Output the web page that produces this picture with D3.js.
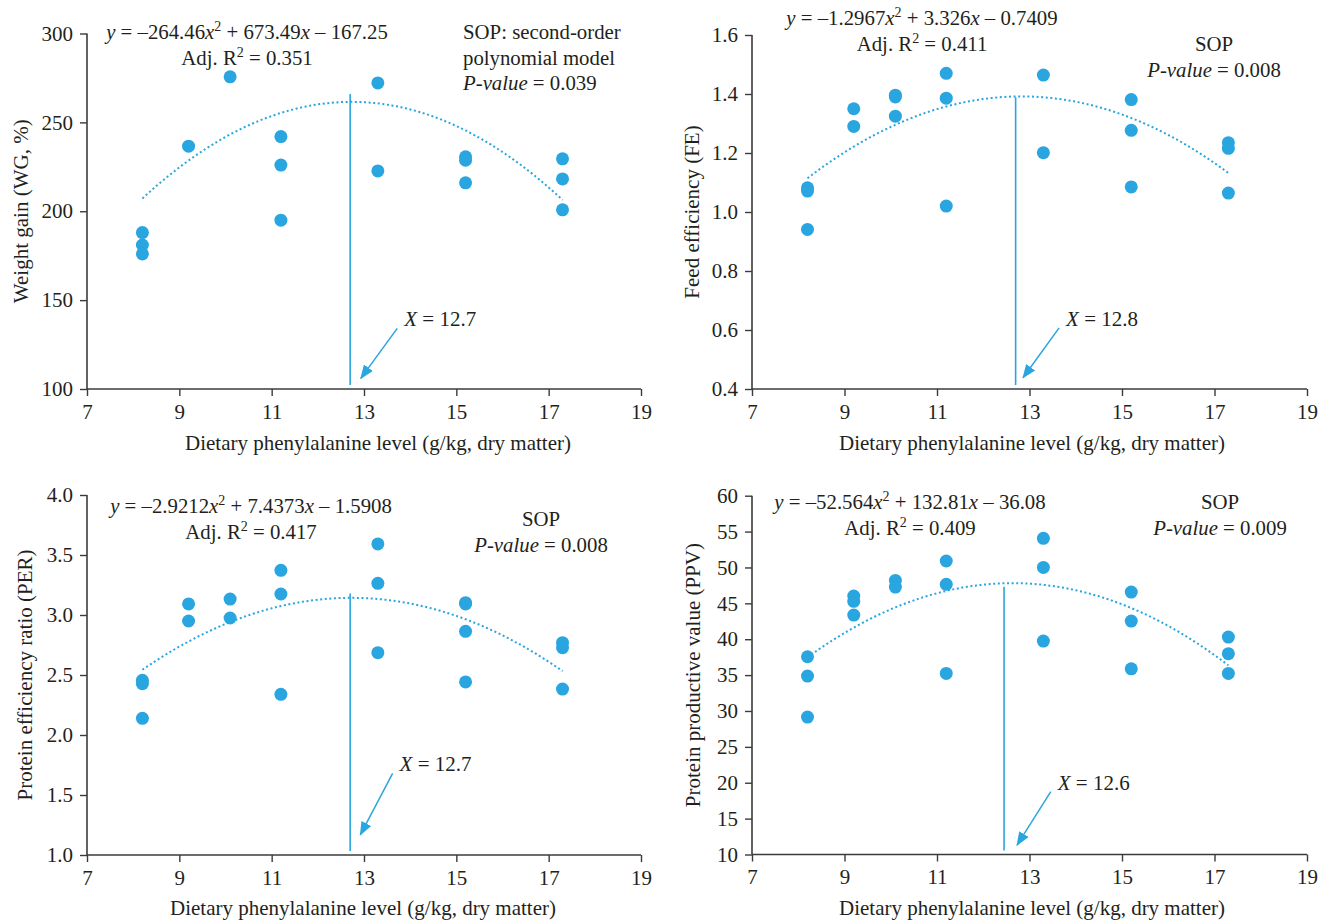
<!DOCTYPE html>
<html>
<head>
<meta charset="utf-8">
<script src="https://cdn.jsdelivr.net/npm/d3@7"></script>
<style>
  body { margin: 0; background: #fff; }
  text { font-family: "Liberation Serif", "Times New Roman", serif; fill: #231f20; }
</style>
</head>
<body>
<svg id="chart" width="1332" height="923"></svg>
<script>

// ---- data ----
var xTicks = [7, 9, 11, 13, 15, 17, 19];
var curveRange = [8.2, 17.3];

// weight gain (WG, %)
var wgPoints = [[8.2,188],[8.2,181],[8.2,176],[9.2,236.6],[10.1,275.6],[11.2,242],[11.2,226],[11.2,195],
                [13.3,272.2],[13.3,222.7],[15.2,230.6],[15.2,228.7],[15.2,216],[17.3,229.5],[17.3,218.2],[17.3,200.8]];
var wgFit = [-264.46, 673.49, -167.25];
var wgTicks = [100, 150, 200, 250, 300];
var wgOpt = [12.7, 265.9];          // x of optimum line, top of line

// feed efficiency (FE)
var fePoints = [[8.2,1.082],[8.2,1.071],[8.2,0.941],[9.2,1.350],[9.2,1.290],[10.1,1.396],[10.1,1.390],[10.1,1.325],
                [11.2,1.470],[11.2,1.386],[11.2,1.020],[13.3,1.464],[13.3,1.201],[15.2,1.381],[15.2,1.277],[15.2,1.085],
                [17.3,1.235],[17.3,1.216],[17.3,1.064]];
var feFit = [-1.2967, 3.326, -0.7409];
var feTicks = [0.4, 0.6, 0.8, 1.0, 1.2, 1.4, 1.6];
var feOpt = [12.7, 1.389];

// protein efficiency ratio (PER)
var perPoints = [[8.2,2.456],[8.2,2.428],[8.2,2.139],[9.2,3.092],[9.2,2.95],[10.1,3.133],[10.1,2.975],
                 [11.2,3.372],[11.2,3.175],[11.2,2.339],[13.3,3.592],[13.3,3.264],[13.3,2.686],
                 [15.2,3.103],[15.2,3.092],[15.2,2.864],[15.2,2.442],[17.3,2.769],[17.3,2.728],[17.3,2.383]];
var perFit = [-2.9212, 7.4373, -1.5908];
var perTicks = [1.0, 1.5, 2.0, 2.5, 3.0, 3.5, 4.0];
var perOpt = [12.7, 3.18];

// protein productive value (PPV)
var ppvPoints = [[8.2,37.56],[8.2,34.86],[8.2,29.15],[9.2,46.02],[9.2,45.28],[9.2,43.37],[10.1,48.2],[10.1,47.27],
                 [11.2,50.9],[11.2,47.65],[11.2,35.24],[13.3,54.06],[13.3,50.01],[13.3,39.74],
                 [15.2,46.57],[15.2,42.53],[15.2,35.88],[17.3,40.30],[17.3,37.98],[17.3,35.24]];
var ppvFit = [-52.564, 132.81, -36.08];
var ppvTicks = [10, 15, 20, 25, 30, 35, 40, 45, 50, 55, 60];
var ppvOpt = [12.45, 47.3];

var blue = "#29a5df";
var axisColor = "#3b3b3b";
var fontSize = "21px";

var svg = d3.select("#chart");

svg.append("defs").append("marker")
    .attr("id", "arrow")
    .attr("markerUnits", "userSpaceOnUse")
    .attr("markerWidth", 16)
    .attr("markerHeight", 16)
    .attr("viewBox", "0 -8 16 16")
    .attr("refX", 13)
    .attr("refY", 0)
    .attr("orient", "auto")
  .append("path")
    .attr("d", "M0,-5.5L14,0L0,5.5Z")
    .attr("fill", blue);

var panels = [
  { points: wgPoints, fit: wgFit, opt: wgOpt, ticks: wgTicks, fmt: d3.format("d"),
    yDomain: [100, 300], xr: [87, 641], yr: [389, 33.5],
    yTitle: "Weight gain (WG, %)", yTitleX: 21, xTitleX: 378, xTitleY: 450,
    eqX: 247, eqY: 39, sop: "left", sopX: 463, sopY: 39,
    arrow: [[13.72, 134.1], [12.93, 106.0]], optLabel: "12.7" },
  { points: fePoints, fit: feFit, opt: feOpt, ticks: feTicks, fmt: d3.format(".1f"),
    yDomain: [0.4, 1.6], xr: [752, 1307], yr: [389, 35],
    yTitle: "Feed efficiency (FE)", yTitleX: 692, xTitleX: 1032, xTitleY: 450,
    eqX: 922, eqY: 25, sop: "center", sopX: 1214, sopY: 51,
    arrow: [[13.64, 0.607], [12.86, 0.438]], optLabel: "12.8" },
  { points: perPoints, fit: perFit, opt: perOpt, ticks: perTicks, fmt: d3.format(".1f"),
    yDomain: [1.0, 4.0], xr: [87, 641], yr: [855, 495],
    yTitle: "Protein efficiency ratio (PER)", yTitleX: 25, xTitleX: 363, xTitleY: 915,
    eqX: 251, eqY: 513, sop: "center", sopX: 541, sopY: 526,
    arrow: [[13.62, 1.681], [12.92, 1.167]], optLabel: "12.7" },
  { points: ppvPoints, fit: ppvFit, opt: ppvOpt, ticks: ppvTicks, fmt: d3.format("d"),
    yDomain: [10, 60], xr: [752, 1307], yr: [854.5, 495.7],
    yTitle: "Protein productive value (PPV)", yTitleX: 693, xTitleX: 1032, xTitleY: 915,
    eqX: 910, eqY: 509, sop: "center", sopX: 1220, sopY: 509,
    arrow: [[13.46, 18.75], [12.73, 11.3]], optLabel: "12.6" }
];

var pValues = ["0.039", "0.008", "0.008", "0.009"];
var adjR2 = ["0.351", "0.411", "0.417", "0.409"];

panels.forEach(function(p, i) { drawPanel(p, pValues[i], adjR2[i]); });

function drawPanel(p, pval, r2) {

  var x = d3.scaleLinear().domain([7, 19]).range(p.xr);
  var y = d3.scaleLinear().domain(p.yDomain).range(p.yr);
  var g = svg.append("g");

  // axes
  var yAxis = g.append("g")
      .attr("transform", "translate(" + p.xr[0] + ",0)")
      .call(d3.axisLeft(y).tickValues(p.ticks).tickFormat(p.fmt).tickSize(7).tickPadding(7));
  var xAxis = g.append("g")
      .attr("transform", "translate(0," + p.yr[0] + ")")
      .call(d3.axisBottom(x).tickValues(xTicks).tickSize(7).tickPadding(8));

  [xAxis, yAxis].forEach(function(a) {
    a.select(".domain").attr("stroke", axisColor).attr("stroke-width", 1.6)
    a.selectAll(".tick line").attr("stroke", axisColor).attr("stroke-width", 1.4);
    a.selectAll(".tick text").attr("font-size", fontSize)
        .style("font-family", "'Liberation Serif', serif").attr("fill", "#231f20");
  });
  // axisLeft/Bottom draw outer ticks on the domain path; strip them
  yAxis.select(".domain").attr("d", "M0," + p.yr[0] + "V" + p.yr[1]);
  xAxis.select(".domain").attr("d", "M" + p.xr[0] + ",0H" + p.xr[1]);

  // axis titles
  g.append("text")
      .attr("x", p.xTitleX)
      .attr("y", p.xTitleY)
      .attr("text-anchor", "middle")
      .attr("font-size", fontSize)
      .text("Dietary phenylalanine level (g/kg, dry matter)");

  g.append("text")
      .attr("transform", "translate(" + p.yTitleX + "," + (p.yr[0] + p.yr[1]) / 2 + ") rotate(-90)")
      .attr("dy", "0.35em")
      .attr("text-anchor", "middle")
      .attr("font-size", fontSize)
      .text(p.yTitle);

  // fitted second-order polynomial (coefficients are for x in %)
  var xs = d3.range(curveRange[0], curveRange[1] + 0.001, 0.05);
  var curve = xs.map(function(v) {
    var t = v / 10;
    return [v, p.fit[0] * t * t + p.fit[1] * t + p.fit[2]];
  });
  g.append("path")
      .datum(curve)
      .attr("fill", "none")
      .attr("stroke", blue)
      .attr("stroke-width", 2)
      .attr("stroke-dasharray", "2,2.6")
      .attr("d", d3.line().x(function(d){ return x(d[0]); }).y(function(d){ return y(d[1]); }));

  // optimum line
  g.append("line")
      .attr("x1", x(p.opt[0])).attr("x2", x(p.opt[0]))
      .attr("y1", p.yr[0] - 4).attr("y2", y(p.opt[1]))
      .attr("stroke", blue)
      .attr("stroke-width", 1.6);

  // points
  g.selectAll("circle")
      .data(p.points)
      .enter()
      .append("circle")
      .attr("cx", function(d){ return x(d[0]); })
      .attr("cy", function(d){ return y(d[1]); })
      .attr("r", 6.5)
      .attr("fill", blue);

  // arrow + label
  g.append("line")
      .attr("x1", x(p.arrow[0][0])).attr("y1", y(p.arrow[0][1]))
      .attr("x2", x(p.arrow[1][0])).attr("y2", y(p.arrow[1][1]))
      .attr("stroke", blue)
      .attr("stroke-width", 1.5)
      .attr("marker-end", "url(#arrow)");

  var lab = g.append("text")
      .attr("x", x(p.arrow[0][0]) + 7)
      .attr("y", y(p.arrow[0][1]) - 2)
      .attr("font-size", fontSize);
  lab.append("tspan").attr("font-style", "italic").text("X");
  lab.append("tspan").text(" = " + p.optLabel);

  // equation
  var c = p.fit;
  var eq = g.append("text")
      .attr("x", p.eqX)
      .attr("y", p.eqY)
      .attr("text-anchor", "middle")
      .attr("font-size", "20.8px");
  eq.append("tspan").attr("font-style", "italic").text("y");
  eq.append("tspan").text(" = \u2013" + Math.abs(c[0]));
  eq.append("tspan").attr("font-style", "italic").text("x");
  eq.append("tspan").attr("dy", -8).attr("font-size", "14px").text("2");
  eq.append("tspan").attr("dy", 8).text(" + " + Math.abs(c[1]));
  eq.append("tspan").attr("font-style", "italic").text("x");
  eq.append("tspan").text(" \u2013 " + Math.abs(c[2]));

  var r = g.append("text")
      .attr("x", p.eqX)
      .attr("y", p.eqY + 26)
      .attr("text-anchor", "middle")
      .attr("font-size", "20.8px");
  r.append("tspan").text("Adj. R");
  r.append("tspan").attr("dy", -8).attr("font-size", "14px").text("2");
  r.append("tspan").attr("dy", 8).text(" = " + r2);

  // model note
  var lines;
  if (p.sop == "left") {
    lines = ["SOP: second-order", "polynomial model"];
  } else {
    lines = ["SOP"];
  }
  var anchor = p.sop == "left" ? "start" : "middle";
  lines.forEach(function(s, k) {
    g.append("text")
        .attr("x", p.sopX)
        .attr("y", p.sopY + k * 26)
        .attr("text-anchor", anchor)
        .attr("font-size", "20.8px")
        .text(s);
  });
  var pv = g.append("text")
      .attr("x", p.sopX)
      .attr("y", p.sopY + lines.length * 25.5)
      .attr("text-anchor", anchor)
      .attr("font-size", "20.8px");
  pv.append("tspan").attr("font-style", "italic").text("P-value");
  pv.append("tspan").text(" = " + pval);
}

</script>
</body>
</html>
